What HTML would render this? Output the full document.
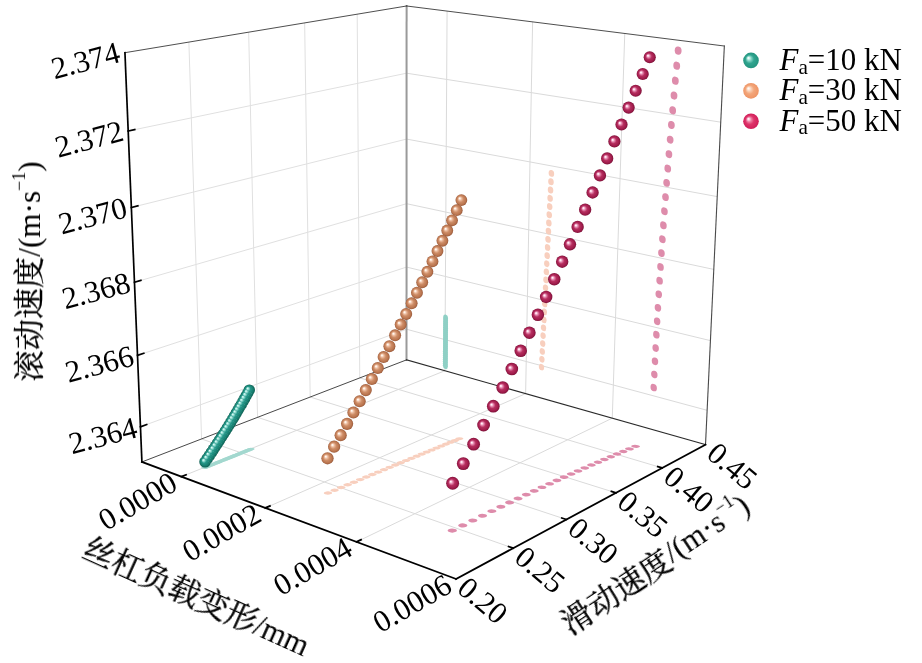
<!DOCTYPE html>
<html lang="zh"><head><meta charset="utf-8"><title>3D scatter</title>
<style>html,body{margin:0;padding:0;background:#fff}svg{display:block}#legendtext,#ticklabels,#titles{filter:grayscale(1)}text{font-family:"Liberation Serif","Noto Serif CJK SC",serif;fill:#000}.cj{font-family:"Noto Serif CJK SC","Liberation Serif",serif;stroke:#000;stroke-width:0.35px}</style></head><body>
<svg width="922" height="663" viewBox="0 0 922 663">
<defs>
<radialGradient id="gp" cx="0.5" cy="0.5" r="0.5" fx="0.34" fy="0.36"><stop offset="0" stop-color="#ffffff"/><stop offset="0.1" stop-color="#ffe3ef"/><stop offset="0.27" stop-color="#e387ad"/><stop offset="0.5" stop-color="#b62f5f"/><stop offset="0.82" stop-color="#9f1b4b"/><stop offset="1" stop-color="#7a1136"/></radialGradient>
<radialGradient id="go" cx="0.5" cy="0.5" r="0.5" fx="0.34" fy="0.34"><stop offset="0" stop-color="#ffffff"/><stop offset="0.1" stop-color="#fff1e6"/><stop offset="0.28" stop-color="#ecbc9f"/><stop offset="0.52" stop-color="#cd8c66"/><stop offset="0.82" stop-color="#ba754f"/><stop offset="1" stop-color="#98593a"/></radialGradient>
<radialGradient id="gt" cx="0.5" cy="0.5" r="0.5" fx="0.33" fy="0.33"><stop offset="0" stop-color="#f2fffd"/><stop offset="0.16" stop-color="#a5e6dc"/><stop offset="0.42" stop-color="#25988a"/><stop offset="0.8" stop-color="#157b6c"/><stop offset="1" stop-color="#0c5b4f"/></radialGradient>
<radialGradient id="lp" cx="0.5" cy="0.5" r="0.5" fx="0.32" fy="0.33"><stop offset="0" stop-color="#ffffff"/><stop offset="0.1" stop-color="#ffe4ee"/><stop offset="0.3" stop-color="#ee7ea2"/><stop offset="0.55" stop-color="#de346a"/><stop offset="1" stop-color="#d01d58"/></radialGradient>
<radialGradient id="lo" cx="0.5" cy="0.5" r="0.5" fx="0.32" fy="0.33"><stop offset="0" stop-color="#ffffff"/><stop offset="0.1" stop-color="#fff3ea"/><stop offset="0.3" stop-color="#f9cdb1"/><stop offset="0.55" stop-color="#f3a67a"/><stop offset="1" stop-color="#ee9465"/></radialGradient>
<radialGradient id="lt" cx="0.5" cy="0.5" r="0.5" fx="0.32" fy="0.33"><stop offset="0" stop-color="#ffffff"/><stop offset="0.1" stop-color="#e2fbf6"/><stop offset="0.3" stop-color="#80d3c3"/><stop offset="0.55" stop-color="#30a48f"/><stop offset="1" stop-color="#22947e"/></radialGradient>
</defs>
<rect width="922" height="663" fill="#fff"/>
<g id="grid">
<line x1="181.42" y1="476.67" x2="444.86" y2="370.75" stroke="#dadada" stroke-width="1"/>
<line x1="444.86" y1="370.75" x2="447.09" y2="11.09" stroke="#dadada" stroke-width="1"/>
<line x1="265.35" y1="507.94" x2="525.61" y2="393.63" stroke="#dadada" stroke-width="1"/>
<line x1="525.61" y1="393.63" x2="532.61" y2="21.87" stroke="#dadada" stroke-width="1"/>
<line x1="356.55" y1="541.91" x2="612.27" y2="418.18" stroke="#dadada" stroke-width="1"/>
<line x1="612.27" y1="418.18" x2="624.76" y2="33.48" stroke="#dadada" stroke-width="1"/>
<line x1="201.57" y1="438.94" x2="513.22" y2="548.14" stroke="#dadada" stroke-width="1"/>
<line x1="201.57" y1="438.94" x2="188.89" y2="42.09" stroke="#e0e0e0" stroke-width="1"/>
<line x1="257.55" y1="417.34" x2="566.4" y2="519.51" stroke="#dadada" stroke-width="1"/>
<line x1="257.55" y1="417.34" x2="248.66" y2="32.18" stroke="#e0e0e0" stroke-width="1"/>
<line x1="310.18" y1="397.04" x2="615.94" y2="492.83" stroke="#dadada" stroke-width="1"/>
<line x1="310.18" y1="397.04" x2="304.65" y2="22.89" stroke="#e0e0e0" stroke-width="1"/>
<line x1="359.75" y1="377.92" x2="662.21" y2="467.92" stroke="#dadada" stroke-width="1"/>
<line x1="359.75" y1="377.92" x2="357.19" y2="14.18" stroke="#e0e0e0" stroke-width="1"/>
<line x1="140.45" y1="426.81" x2="406.52" y2="329.24" stroke="#e0e0e0" stroke-width="1"/>
<line x1="406.52" y1="329.24" x2="707.13" y2="410.32" stroke="#dadada" stroke-width="1"/>
<line x1="137.49" y1="355.34" x2="406.54" y2="267.07" stroke="#e0e0e0" stroke-width="1"/>
<line x1="406.54" y1="267.07" x2="710.43" y2="340.63" stroke="#dadada" stroke-width="1"/>
<line x1="134.46" y1="282.25" x2="406.55" y2="203.7" stroke="#e0e0e0" stroke-width="1"/>
<line x1="406.55" y1="203.7" x2="713.79" y2="269.42" stroke="#dadada" stroke-width="1"/>
<line x1="131.36" y1="207.48" x2="406.57" y2="139.08" stroke="#e0e0e0" stroke-width="1"/>
<line x1="406.57" y1="139.08" x2="717.23" y2="196.61" stroke="#dadada" stroke-width="1"/>
<line x1="128.19" y1="130.99" x2="406.58" y2="73.19" stroke="#e0e0e0" stroke-width="1"/>
<line x1="406.58" y1="73.19" x2="720.75" y2="122.17" stroke="#dadada" stroke-width="1"/>
</g>
<g id="box" stroke-linecap="square">
<line x1="406.52" y1="359.88" x2="406.6" y2="5.99" stroke="#9a9a9a" stroke-width="2"/>
<line x1="141.91" y1="461.95" x2="406.52" y2="359.88" stroke="#333" stroke-width="0.9"/>
<line x1="406.52" y1="359.88" x2="705.51" y2="444.6" stroke="#2a2a2a" stroke-width="1.1"/>
<line x1="124.94" y1="52.69" x2="406.6" y2="5.99" stroke="#3a3a3a" stroke-width="0.9"/>
<line x1="406.6" y1="5.99" x2="724.34" y2="46.03" stroke="#3a3a3a" stroke-width="0.9"/>
<line x1="724.34" y1="46.03" x2="705.51" y2="444.6" stroke="#4a4a4a" stroke-width="1.1"/>
<line x1="141.91" y1="461.95" x2="455.99" y2="578.96" stroke="#000" stroke-width="1.8"/>
<line x1="455.99" y1="578.96" x2="705.51" y2="444.6" stroke="#000" stroke-width="1.8"/>
<line x1="141.91" y1="461.95" x2="124.94" y2="52.69" stroke="#000" stroke-width="1.7"/>
<line x1="181.42" y1="476.67" x2="186.01" y2="474.83" stroke="#000" stroke-width="1.8"/>
<line x1="265.35" y1="507.94" x2="269.91" y2="505.94" stroke="#000" stroke-width="1.8"/>
<line x1="356.55" y1="541.91" x2="361.05" y2="539.73" stroke="#000" stroke-width="1.8"/>
<line x1="513.22" y1="548.14" x2="508.56" y2="546.51" stroke="#000" stroke-width="1.7"/>
<line x1="566.4" y1="519.51" x2="561.8" y2="517.99" stroke="#000" stroke-width="1.7"/>
<line x1="615.94" y1="492.83" x2="611.41" y2="491.41" stroke="#000" stroke-width="1.7"/>
<line x1="662.21" y1="467.92" x2="657.74" y2="466.59" stroke="#000" stroke-width="1.7"/>
<line x1="140.45" y1="426.81" x2="146.68" y2="424.53" stroke="#000" stroke-width="1.7"/>
<line x1="137.49" y1="355.34" x2="143.8" y2="353.27" stroke="#000" stroke-width="1.7"/>
<line x1="134.46" y1="282.25" x2="140.85" y2="280.41" stroke="#000" stroke-width="1.7"/>
<line x1="131.36" y1="207.48" x2="137.83" y2="205.88" stroke="#000" stroke-width="1.7"/>
<line x1="128.19" y1="130.99" x2="134.74" y2="129.62" stroke="#000" stroke-width="1.7"/>
</g>
<g id="proj">
<circle r="1" fill="#a3d8cf" transform="matrix(2.59 0.94 2.76 -1.11 205.27 467.44)"/>
<circle r="1" fill="#a3d8cf" transform="matrix(2.59 0.94 2.75 -1.11 207.49 466.54)"/>
<circle r="1" fill="#a3d8cf" transform="matrix(2.59 0.94 2.74 -1.1 209.68 465.66)"/>
<circle r="1" fill="#a3d8cf" transform="matrix(2.59 0.94 2.74 -1.1 211.84 464.8)"/>
<circle r="1" fill="#a3d8cf" transform="matrix(2.59 0.93 2.73 -1.1 213.97 463.94)"/>
<circle r="1" fill="#a3d8cf" transform="matrix(2.59 0.93 2.73 -1.1 216.07 463.09)"/>
<circle r="1" fill="#a3d8cf" transform="matrix(2.59 0.93 2.72 -1.09 218.14 462.26)"/>
<circle r="1" fill="#a3d8cf" transform="matrix(2.59 0.93 2.71 -1.09 220.19 461.44)"/>
<circle r="1" fill="#a3d8cf" transform="matrix(2.59 0.93 2.71 -1.09 222.2 460.62)"/>
<circle r="1" fill="#a3d8cf" transform="matrix(2.59 0.92 2.7 -1.09 224.19 459.83)"/>
<circle r="1" fill="#a3d8cf" transform="matrix(2.59 0.92 2.7 -1.08 226.15 459.04)"/>
<circle r="1" fill="#a3d8cf" transform="matrix(2.59 0.92 2.69 -1.08 228.08 458.26)"/>
<circle r="1" fill="#a3d8cf" transform="matrix(2.59 0.92 2.68 -1.08 229.98 457.49)"/>
<circle r="1" fill="#a3d8cf" transform="matrix(2.59 0.92 2.68 -1.08 231.86 456.74)"/>
<circle r="1" fill="#a3d8cf" transform="matrix(2.59 0.91 2.67 -1.08 233.71 456)"/>
<circle r="1" fill="#a3d8cf" transform="matrix(2.59 0.91 2.67 -1.07 235.53 455.26)"/>
<circle r="1" fill="#a3d8cf" transform="matrix(2.59 0.91 2.66 -1.07 237.32 454.54)"/>
<circle r="1" fill="#a3d8cf" transform="matrix(2.59 0.91 2.66 -1.07 239.09 453.83)"/>
<circle r="1" fill="#a3d8cf" transform="matrix(2.59 0.91 2.65 -1.07 240.83 453.13)"/>
<circle r="1" fill="#a3d8cf" transform="matrix(2.59 0.9 2.65 -1.06 242.55 452.44)"/>
<circle r="1" fill="#a3d8cf" transform="matrix(2.59 0.9 2.64 -1.06 244.23 451.76)"/>
<circle r="1" fill="#a3d8cf" transform="matrix(2.58 0.9 2.64 -1.06 245.89 451.09)"/>
<circle r="1" fill="#a3d8cf" transform="matrix(2.58 0.9 2.63 -1.06 247.53 450.44)"/>
<circle r="1" fill="#a3d8cf" transform="matrix(2.58 0.9 2.63 -1.06 249.14 449.79)"/>
<circle r="1" fill="#a3d8cf" transform="matrix(2.58 0.9 2.62 -1.05 250.72 449.15)"/>
<circle r="1" fill="#8fd0c5" transform="matrix(2.46 0.69 0.02 -3.07 445.34 365.93)"/>
<circle r="1" fill="#8fd0c5" transform="matrix(2.46 0.69 0.02 -3.07 445.35 363.94)"/>
<circle r="1" fill="#8fd0c5" transform="matrix(2.46 0.69 0.02 -3.07 445.37 361.94)"/>
<circle r="1" fill="#8fd0c5" transform="matrix(2.46 0.69 0.02 -3.08 445.38 359.94)"/>
<circle r="1" fill="#8fd0c5" transform="matrix(2.46 0.68 0.02 -3.08 445.39 357.95)"/>
<circle r="1" fill="#8fd0c5" transform="matrix(2.46 0.68 0.02 -3.08 445.4 355.95)"/>
<circle r="1" fill="#8fd0c5" transform="matrix(2.46 0.68 0.02 -3.08 445.42 353.95)"/>
<circle r="1" fill="#8fd0c5" transform="matrix(2.47 0.68 0.02 -3.08 445.43 351.95)"/>
<circle r="1" fill="#8fd0c5" transform="matrix(2.47 0.68 0.02 -3.09 445.44 349.94)"/>
<circle r="1" fill="#8fd0c5" transform="matrix(2.47 0.67 0.02 -3.09 445.45 347.94)"/>
<circle r="1" fill="#8fd0c5" transform="matrix(2.47 0.67 0.02 -3.09 445.47 345.94)"/>
<circle r="1" fill="#8fd0c5" transform="matrix(2.47 0.67 0.02 -3.09 445.48 343.93)"/>
<circle r="1" fill="#8fd0c5" transform="matrix(2.47 0.67 0.02 -3.09 445.49 341.92)"/>
<circle r="1" fill="#8fd0c5" transform="matrix(2.47 0.67 0.02 -3.1 445.5 339.91)"/>
<circle r="1" fill="#8fd0c5" transform="matrix(2.47 0.66 0.02 -3.1 445.52 337.9)"/>
<circle r="1" fill="#8fd0c5" transform="matrix(2.47 0.66 0.02 -3.1 445.53 335.89)"/>
<circle r="1" fill="#8fd0c5" transform="matrix(2.47 0.66 0.02 -3.1 445.54 333.88)"/>
<circle r="1" fill="#8fd0c5" transform="matrix(2.47 0.66 0.02 -3.1 445.55 331.87)"/>
<circle r="1" fill="#8fd0c5" transform="matrix(2.47 0.66 0.02 -3.11 445.57 329.85)"/>
<circle r="1" fill="#8fd0c5" transform="matrix(2.47 0.65 0.02 -3.11 445.58 327.83)"/>
<circle r="1" fill="#8fd0c5" transform="matrix(2.48 0.65 0.02 -3.11 445.59 325.82)"/>
<circle r="1" fill="#8fd0c5" transform="matrix(2.48 0.65 0.02 -3.11 445.6 323.8)"/>
<circle r="1" fill="#8fd0c5" transform="matrix(2.48 0.65 0.02 -3.11 445.62 321.78)"/>
<circle r="1" fill="#8fd0c5" transform="matrix(2.48 0.65 0.02 -3.12 445.63 319.76)"/>
<circle r="1" fill="#8fd0c5" transform="matrix(2.48 0.64 0.02 -3.12 445.64 317.73)"/>
<circle r="1" fill="#f8cfbe" transform="matrix(3.03 1.07 2.83 -1.27 327.93 493.05)"/>
<circle r="1" fill="#f8cfbe" transform="matrix(3.03 1.07 2.81 -1.26 334.62 490.25)"/>
<circle r="1" fill="#f8cfbe" transform="matrix(3.02 1.06 2.79 -1.25 341.19 487.51)"/>
<circle r="1" fill="#f8cfbe" transform="matrix(3.02 1.05 2.77 -1.24 347.64 484.82)"/>
<circle r="1" fill="#f8cfbe" transform="matrix(3.02 1.04 2.75 -1.23 353.98 482.17)"/>
<circle r="1" fill="#f8cfbe" transform="matrix(3.02 1.04 2.73 -1.22 360.21 479.58)"/>
<circle r="1" fill="#f8cfbe" transform="matrix(3.02 1.03 2.71 -1.21 366.32 477.03)"/>
<circle r="1" fill="#f8cfbe" transform="matrix(3.01 1.02 2.69 -1.2 372.33 474.54)"/>
<circle r="1" fill="#f8cfbe" transform="matrix(3.01 1.02 2.67 -1.2 378.23 472.08)"/>
<circle r="1" fill="#f8cfbe" transform="matrix(3.01 1.01 2.65 -1.19 384.02 469.68)"/>
<circle r="1" fill="#f8cfbe" transform="matrix(3.01 1 2.64 -1.18 389.71 467.32)"/>
<circle r="1" fill="#f8cfbe" transform="matrix(3 1 2.62 -1.17 395.29 465)"/>
<circle r="1" fill="#f8cfbe" transform="matrix(3 0.99 2.6 -1.17 400.78 462.73)"/>
<circle r="1" fill="#f8cfbe" transform="matrix(3 0.98 2.58 -1.16 406.17 460.5)"/>
<circle r="1" fill="#f8cfbe" transform="matrix(3 0.98 2.57 -1.15 411.46 458.32)"/>
<circle r="1" fill="#f8cfbe" transform="matrix(3 0.97 2.55 -1.14 416.65 456.17)"/>
<circle r="1" fill="#f8cfbe" transform="matrix(2.99 0.97 2.54 -1.14 421.75 454.07)"/>
<circle r="1" fill="#f8cfbe" transform="matrix(2.99 0.96 2.52 -1.13 426.76 452)"/>
<circle r="1" fill="#f8cfbe" transform="matrix(2.99 0.96 2.51 -1.12 431.68 449.98)"/>
<circle r="1" fill="#f8cfbe" transform="matrix(2.99 0.95 2.49 -1.12 436.5 448)"/>
<circle r="1" fill="#f8cfbe" transform="matrix(2.99 0.95 2.48 -1.11 441.24 446.05)"/>
<circle r="1" fill="#f8cfbe" transform="matrix(2.98 0.94 2.46 -1.11 445.89 444.15)"/>
<circle r="1" fill="#f8cfbe" transform="matrix(2.98 0.94 2.45 -1.1 450.45 442.28)"/>
<circle r="1" fill="#f8cfbe" transform="matrix(2.98 0.93 2.44 -1.09 454.93 440.45)"/>
<circle r="1" fill="#f8cfbe" transform="matrix(2.98 0.93 2.42 -1.09 459.32 438.65)"/>
<circle r="1" fill="#f8cfbe" transform="matrix(2.68 0.72 0.07 -3.21 541.5 367.12)"/>
<circle r="1" fill="#f8cfbe" transform="matrix(2.68 0.72 0.07 -3.22 541.9 359.29)"/>
<circle r="1" fill="#f8cfbe" transform="matrix(2.69 0.71 0.07 -3.23 542.3 351.44)"/>
<circle r="1" fill="#f8cfbe" transform="matrix(2.69 0.7 0.07 -3.24 542.7 343.57)"/>
<circle r="1" fill="#f8cfbe" transform="matrix(2.7 0.69 0.07 -3.24 543.1 335.68)"/>
<circle r="1" fill="#f8cfbe" transform="matrix(2.7 0.69 0.07 -3.25 543.51 327.77)"/>
<circle r="1" fill="#f8cfbe" transform="matrix(2.71 0.68 0.07 -3.26 543.91 319.84)"/>
<circle r="1" fill="#f8cfbe" transform="matrix(2.71 0.67 0.07 -3.27 544.32 311.89)"/>
<circle r="1" fill="#f8cfbe" transform="matrix(2.71 0.66 0.07 -3.28 544.73 303.91)"/>
<circle r="1" fill="#f8cfbe" transform="matrix(2.72 0.65 0.07 -3.29 545.13 295.92)"/>
<circle r="1" fill="#f8cfbe" transform="matrix(2.72 0.64 0.07 -3.29 545.54 287.9)"/>
<circle r="1" fill="#f8cfbe" transform="matrix(2.73 0.64 0.07 -3.3 545.95 279.86)"/>
<circle r="1" fill="#f8cfbe" transform="matrix(2.73 0.63 0.07 -3.31 546.37 271.8)"/>
<circle r="1" fill="#f8cfbe" transform="matrix(2.73 0.62 0.07 -3.32 546.78 263.72)"/>
<circle r="1" fill="#f8cfbe" transform="matrix(2.74 0.61 0.07 -3.33 547.19 255.62)"/>
<circle r="1" fill="#f8cfbe" transform="matrix(2.74 0.6 0.07 -3.34 547.61 247.49)"/>
<circle r="1" fill="#f8cfbe" transform="matrix(2.75 0.59 0.07 -3.35 548.02 239.35)"/>
<circle r="1" fill="#f8cfbe" transform="matrix(2.75 0.59 0.07 -3.35 548.44 231.18)"/>
<circle r="1" fill="#f8cfbe" transform="matrix(2.75 0.58 0.07 -3.36 548.86 222.98)"/>
<circle r="1" fill="#f8cfbe" transform="matrix(2.76 0.57 0.07 -3.37 549.28 214.77)"/>
<circle r="1" fill="#f8cfbe" transform="matrix(2.76 0.56 0.07 -3.38 549.7 206.54)"/>
<circle r="1" fill="#f8cfbe" transform="matrix(2.77 0.55 0.07 -3.39 550.12 198.28)"/>
<circle r="1" fill="#f8cfbe" transform="matrix(2.77 0.54 0.07 -3.4 550.54 190)"/>
<circle r="1" fill="#f8cfbe" transform="matrix(2.78 0.53 0.08 -3.41 550.97 181.69)"/>
<circle r="1" fill="#f8cfbe" transform="matrix(2.78 0.52 0.08 -3.42 551.39 173.37)"/>
<circle r="1" fill="#de8cab" transform="matrix(3.6 1.27 2.95 -1.49 452.28 530.6)"/>
<circle r="1" fill="#de8cab" transform="matrix(3.59 1.25 2.91 -1.47 462.73 525.41)"/>
<circle r="1" fill="#de8cab" transform="matrix(3.58 1.23 2.87 -1.45 472.79 520.45)"/>
<circle r="1" fill="#de8cab" transform="matrix(3.57 1.22 2.84 -1.44 482.48 515.69)"/>
<circle r="1" fill="#de8cab" transform="matrix(3.57 1.21 2.8 -1.42 491.84 511.12)"/>
<circle r="1" fill="#de8cab" transform="matrix(3.56 1.19 2.77 -1.4 500.88 506.75)"/>
<circle r="1" fill="#de8cab" transform="matrix(3.55 1.18 2.74 -1.39 509.62 502.54)"/>
<circle r="1" fill="#de8cab" transform="matrix(3.55 1.17 2.71 -1.37 518.09 498.5)"/>
<circle r="1" fill="#de8cab" transform="matrix(3.54 1.15 2.68 -1.36 526.3 494.61)"/>
<circle r="1" fill="#de8cab" transform="matrix(3.54 1.14 2.65 -1.35 534.27 490.86)"/>
<circle r="1" fill="#de8cab" transform="matrix(3.53 1.13 2.63 -1.33 542.02 487.25)"/>
<circle r="1" fill="#de8cab" transform="matrix(3.53 1.12 2.6 -1.32 549.57 483.77)"/>
<circle r="1" fill="#de8cab" transform="matrix(3.52 1.11 2.58 -1.31 556.93 480.4)"/>
<circle r="1" fill="#de8cab" transform="matrix(3.52 1.1 2.55 -1.3 564.12 477.13)"/>
<circle r="1" fill="#de8cab" transform="matrix(3.51 1.09 2.53 -1.29 571.14 473.97)"/>
<circle r="1" fill="#de8cab" transform="matrix(3.51 1.08 2.51 -1.28 578.03 470.91)"/>
<circle r="1" fill="#de8cab" transform="matrix(3.5 1.08 2.48 -1.27 584.78 467.92)"/>
<circle r="1" fill="#de8cab" transform="matrix(3.5 1.07 2.46 -1.26 591.42 465.02)"/>
<circle r="1" fill="#de8cab" transform="matrix(3.49 1.06 2.44 -1.25 597.95 462.19)"/>
<circle r="1" fill="#de8cab" transform="matrix(3.49 1.05 2.42 -1.24 604.39 459.42)"/>
<circle r="1" fill="#de8cab" transform="matrix(3.48 1.04 2.4 -1.23 610.75 456.72)"/>
<circle r="1" fill="#de8cab" transform="matrix(3.48 1.04 2.38 -1.22 617.05 454.06)"/>
<circle r="1" fill="#de8cab" transform="matrix(3.48 1.03 2.36 -1.21 623.28 451.46)"/>
<circle r="1" fill="#de8cab" transform="matrix(3.47 1.02 2.34 -1.2 629.47 448.89)"/>
<circle r="1" fill="#de8cab" transform="matrix(3.47 1.01 2.32 -1.19 635.62 446.36)"/>
<circle r="1" fill="#de8cab" transform="matrix(3.2 0.85 0.14 -3.65 653.7 387.56)"/>
<circle r="1" fill="#de8cab" transform="matrix(3.21 0.84 0.14 -3.67 654.32 374.46)"/>
<circle r="1" fill="#de8cab" transform="matrix(3.22 0.82 0.14 -3.69 654.97 361.29)"/>
<circle r="1" fill="#de8cab" transform="matrix(3.23 0.81 0.14 -3.7 655.66 348.05)"/>
<circle r="1" fill="#de8cab" transform="matrix(3.24 0.79 0.14 -3.72 656.38 334.72)"/>
<circle r="1" fill="#de8cab" transform="matrix(3.24 0.78 0.15 -3.73 657.14 321.33)"/>
<circle r="1" fill="#de8cab" transform="matrix(3.25 0.76 0.15 -3.75 657.93 307.85)"/>
<circle r="1" fill="#de8cab" transform="matrix(3.26 0.75 0.15 -3.76 658.75 294.3)"/>
<circle r="1" fill="#de8cab" transform="matrix(3.27 0.73 0.15 -3.78 659.61 280.67)"/>
<circle r="1" fill="#de8cab" transform="matrix(3.28 0.71 0.15 -3.8 660.51 266.95)"/>
<circle r="1" fill="#de8cab" transform="matrix(3.29 0.7 0.15 -3.81 661.44 253.15)"/>
<circle r="1" fill="#de8cab" transform="matrix(3.29 0.68 0.15 -3.83 662.4 239.27)"/>
<circle r="1" fill="#de8cab" transform="matrix(3.3 0.66 0.15 -3.85 663.4 225.31)"/>
<circle r="1" fill="#de8cab" transform="matrix(3.31 0.65 0.15 -3.86 664.44 211.25)"/>
<circle r="1" fill="#de8cab" transform="matrix(3.32 0.63 0.15 -3.88 665.51 197.11)"/>
<circle r="1" fill="#de8cab" transform="matrix(3.33 0.61 0.15 -3.9 666.61 182.89)"/>
<circle r="1" fill="#de8cab" transform="matrix(3.34 0.59 0.16 -3.92 667.75 168.57)"/>
<circle r="1" fill="#de8cab" transform="matrix(3.35 0.58 0.16 -3.94 668.93 154.16)"/>
<circle r="1" fill="#de8cab" transform="matrix(3.36 0.56 0.16 -3.95 670.14 139.65)"/>
<circle r="1" fill="#de8cab" transform="matrix(3.37 0.54 0.16 -3.97 671.39 125.05)"/>
<circle r="1" fill="#de8cab" transform="matrix(3.38 0.52 0.16 -3.99 672.67 110.36)"/>
<circle r="1" fill="#de8cab" transform="matrix(3.39 0.5 0.16 -4.01 673.99 95.57)"/>
<circle r="1" fill="#de8cab" transform="matrix(3.4 0.48 0.16 -4.03 675.34 80.67)"/>
<circle r="1" fill="#de8cab" transform="matrix(3.41 0.46 0.16 -4.05 676.73 65.68)"/>
<circle r="1" fill="#de8cab" transform="matrix(3.42 0.45 0.16 -4.07 678.16 50.59)"/>
</g>
<g id="balls">
<clipPath id="ct24"><polygon points="256.1,396.37 263.32,384.47 248,375.03 240.77,386.92"/></clipPath>
<circle cx="249.29" cy="390.1" r="5.7" fill="url(#gt)" clip-path="url(#ct24)"/>
<clipPath id="ct23"><polygon points="254.54,399.21 256.26,396.11 240.93,386.67 239.22,389.77"/></clipPath>
<circle cx="247.74" cy="392.94" r="5.7" fill="url(#gt)" clip-path="url(#ct23)"/>
<clipPath id="ct22"><polygon points="252.96,402.07 254.7,398.96 239.38,389.51 237.64,392.63"/></clipPath>
<circle cx="246.17" cy="395.79" r="5.7" fill="url(#gt)" clip-path="url(#ct22)"/>
<clipPath id="ct21"><polygon points="251.36,404.94 253.12,401.82 237.79,392.37 236.03,395.5"/></clipPath>
<circle cx="244.58" cy="398.65" r="5.71" fill="url(#gt)" clip-path="url(#ct21)"/>
<clipPath id="ct20"><polygon points="249.72,407.82 251.51,404.69 236.19,395.24 234.4,398.38"/></clipPath>
<circle cx="242.96" cy="401.53" r="5.71" fill="url(#gt)" clip-path="url(#ct20)"/>
<clipPath id="ct19"><polygon points="248.07,410.72 249.88,407.57 234.56,398.13 232.74,401.28"/></clipPath>
<circle cx="241.32" cy="404.42" r="5.71" fill="url(#gt)" clip-path="url(#ct19)"/>
<clipPath id="ct18"><polygon points="246.38,413.63 248.22,410.46 232.9,401.02 231.06,404.18"/></clipPath>
<circle cx="239.65" cy="407.32" r="5.72" fill="url(#gt)" clip-path="url(#ct18)"/>
<clipPath id="ct17"><polygon points="244.68,416.55 246.54,413.37 231.22,403.93 229.35,407.1"/></clipPath>
<circle cx="237.95" cy="410.23" r="5.72" fill="url(#gt)" clip-path="url(#ct17)"/>
<clipPath id="ct16"><polygon points="242.94,419.48 244.83,416.29 229.51,406.85 227.62,410.04"/></clipPath>
<circle cx="236.23" cy="413.16" r="5.72" fill="url(#gt)" clip-path="url(#ct16)"/>
<clipPath id="ct15"><polygon points="241.18,422.43 243.1,419.22 227.78,409.78 225.86,412.98"/></clipPath>
<circle cx="234.49" cy="416.1" r="5.73" fill="url(#gt)" clip-path="url(#ct15)"/>
<clipPath id="ct14"><polygon points="239.4,425.38 241.34,422.17 226.02,412.73 224.07,415.94"/></clipPath>
<circle cx="232.71" cy="419.05" r="5.73" fill="url(#gt)" clip-path="url(#ct14)"/>
<clipPath id="ct13"><polygon points="237.58,428.36 239.55,425.13 224.23,415.69 222.26,418.91"/></clipPath>
<circle cx="230.91" cy="422.02" r="5.74" fill="url(#gt)" clip-path="url(#ct13)"/>
<clipPath id="ct12"><polygon points="235.75,431.34 237.74,428.1 222.42,418.66 220.42,421.9"/></clipPath>
<circle cx="229.09" cy="425" r="5.74" fill="url(#gt)" clip-path="url(#ct12)"/>
<clipPath id="ct11"><polygon points="233.88,434.34 235.9,431.09 220.58,421.64 218.56,424.9"/></clipPath>
<circle cx="227.24" cy="427.99" r="5.74" fill="url(#gt)" clip-path="url(#ct11)"/>
<clipPath id="ct10"><polygon points="231.99,437.35 234.04,434.08 218.71,424.64 216.67,427.91"/></clipPath>
<circle cx="225.36" cy="430.99" r="5.75" fill="url(#gt)" clip-path="url(#ct10)"/>
<clipPath id="ct9"><polygon points="230.07,440.38 232.15,437.1 216.82,427.65 214.75,430.94"/></clipPath>
<circle cx="223.45" cy="434.01" r="5.75" fill="url(#gt)" clip-path="url(#ct9)"/>
<clipPath id="ct8"><polygon points="228.13,443.42 230.23,440.12 214.91,430.68 212.8,433.97"/></clipPath>
<circle cx="221.52" cy="437.04" r="5.76" fill="url(#gt)" clip-path="url(#ct8)"/>
<clipPath id="ct7"><polygon points="226.16,446.47 228.28,443.16 212.96,433.72 210.83,437.03"/></clipPath>
<circle cx="219.56" cy="440.09" r="5.76" fill="url(#gt)" clip-path="url(#ct7)"/>
<clipPath id="ct6"><polygon points="224.16,449.54 226.31,446.22 210.99,436.77 208.83,440.1"/></clipPath>
<circle cx="217.58" cy="443.15" r="5.77" fill="url(#gt)" clip-path="url(#ct6)"/>
<clipPath id="ct5"><polygon points="222.13,452.62 224.31,449.28 208.99,439.84 206.81,443.18"/></clipPath>
<circle cx="215.57" cy="446.23" r="5.77" fill="url(#gt)" clip-path="url(#ct5)"/>
<clipPath id="ct4"><polygon points="220.08,455.72 222.29,452.37 206.96,442.92 204.75,446.28"/></clipPath>
<circle cx="213.53" cy="449.32" r="5.78" fill="url(#gt)" clip-path="url(#ct4)"/>
<clipPath id="ct3"><polygon points="217.99,458.83 220.23,455.46 204.91,446.02 202.67,449.39"/></clipPath>
<circle cx="211.46" cy="452.42" r="5.78" fill="url(#gt)" clip-path="url(#ct3)"/>
<clipPath id="ct2"><polygon points="215.89,461.96 218.15,458.57 202.83,449.13 200.56,452.51"/></clipPath>
<circle cx="209.36" cy="455.54" r="5.79" fill="url(#gt)" clip-path="url(#ct2)"/>
<clipPath id="ct1"><polygon points="213.75,465.1 216.04,461.7 200.72,452.26 198.42,455.66"/></clipPath>
<circle cx="207.24" cy="458.67" r="5.79" fill="url(#gt)" clip-path="url(#ct1)"/>
<clipPath id="ct0"><polygon points="206.38,476.89 213.91,464.84 198.58,455.4 191.05,467.45"/></clipPath>
<circle cx="205.09" cy="461.82" r="5.8" fill="url(#gt)" clip-path="url(#ct0)"/>
<circle cx="461.36" cy="200.06" r="5.88" fill="url(#go)"/>
<circle cx="456.74" cy="210.16" r="5.89" fill="url(#go)"/>
<circle cx="452.04" cy="220.31" r="5.9" fill="url(#go)"/>
<circle cx="447.26" cy="230.5" r="5.91" fill="url(#go)"/>
<circle cx="442.41" cy="240.74" r="5.91" fill="url(#go)"/>
<circle cx="437.48" cy="251.03" r="5.92" fill="url(#go)"/>
<circle cx="432.47" cy="261.38" r="5.93" fill="url(#go)"/>
<circle cx="427.38" cy="271.77" r="5.94" fill="url(#go)"/>
<circle cx="422.21" cy="282.23" r="5.95" fill="url(#go)"/>
<circle cx="416.95" cy="292.73" r="5.96" fill="url(#go)"/>
<circle cx="411.62" cy="303.3" r="5.97" fill="url(#go)"/>
<circle cx="406.19" cy="313.93" r="5.98" fill="url(#go)"/>
<circle cx="400.69" cy="324.61" r="5.99" fill="url(#go)"/>
<circle cx="395.1" cy="335.36" r="6" fill="url(#go)"/>
<circle cx="389.41" cy="346.18" r="6.01" fill="url(#go)"/>
<circle cx="383.65" cy="357.06" r="6.03" fill="url(#go)"/>
<circle cx="377.79" cy="368.01" r="6.04" fill="url(#go)"/>
<circle cx="371.83" cy="379.03" r="6.05" fill="url(#go)"/>
<circle cx="365.79" cy="390.12" r="6.06" fill="url(#go)"/>
<circle cx="359.65" cy="401.29" r="6.07" fill="url(#go)"/>
<circle cx="353.42" cy="412.52" r="6.09" fill="url(#go)"/>
<circle cx="347.09" cy="423.84" r="6.1" fill="url(#go)"/>
<circle cx="340.66" cy="435.24" r="6.12" fill="url(#go)"/>
<circle cx="334.13" cy="446.72" r="6.13" fill="url(#go)"/>
<circle cx="327.51" cy="458.28" r="6.14" fill="url(#go)"/>
<circle cx="649.73" cy="57.21" r="6.07" fill="url(#gp)"/>
<circle cx="642.71" cy="73.98" r="6.08" fill="url(#gp)"/>
<circle cx="635.67" cy="90.78" r="6.09" fill="url(#gp)"/>
<circle cx="628.61" cy="107.62" r="6.1" fill="url(#gp)"/>
<circle cx="621.52" cy="124.49" r="6.11" fill="url(#gp)"/>
<circle cx="614.39" cy="141.41" r="6.12" fill="url(#gp)"/>
<circle cx="607.19" cy="158.39" r="6.13" fill="url(#gp)"/>
<circle cx="599.94" cy="175.42" r="6.14" fill="url(#gp)"/>
<circle cx="592.6" cy="192.51" r="6.16" fill="url(#gp)"/>
<circle cx="585.16" cy="209.67" r="6.17" fill="url(#gp)"/>
<circle cx="577.63" cy="226.92" r="6.18" fill="url(#gp)"/>
<circle cx="569.97" cy="244.26" r="6.19" fill="url(#gp)"/>
<circle cx="562.18" cy="261.7" r="6.21" fill="url(#gp)"/>
<circle cx="554.25" cy="279.24" r="6.22" fill="url(#gp)"/>
<circle cx="546.15" cy="296.91" r="6.24" fill="url(#gp)"/>
<circle cx="537.88" cy="314.71" r="6.26" fill="url(#gp)"/>
<circle cx="529.41" cy="332.66" r="6.27" fill="url(#gp)"/>
<circle cx="520.74" cy="350.77" r="6.29" fill="url(#gp)"/>
<circle cx="511.84" cy="369.04" r="6.31" fill="url(#gp)"/>
<circle cx="502.69" cy="387.51" r="6.33" fill="url(#gp)"/>
<circle cx="493.28" cy="406.19" r="6.35" fill="url(#gp)"/>
<circle cx="483.6" cy="425.08" r="6.38" fill="url(#gp)"/>
<circle cx="473.61" cy="444.22" r="6.4" fill="url(#gp)"/>
<circle cx="463.3" cy="463.61" r="6.43" fill="url(#gp)"/>
<circle cx="452.64" cy="483.29" r="6.46" fill="url(#gp)"/>
</g>
<g id="legend">
<circle cx="751" cy="60.4" r="7.8" fill="url(#lt)"/>
<circle cx="751" cy="90.85" r="7.8" fill="url(#lo)"/>
<circle cx="751" cy="121.3" r="7.8" fill="url(#lp)"/>
</g>
<g id="legendtext">
<text transform="translate(779.5 70.1) scale(1.014 1)" font-size="30.5"><tspan font-style="italic">F</tspan><tspan font-size="21" dy="3.6">a</tspan><tspan dy="-3.6">=10 kN</tspan></text>
<text transform="translate(779.5 100.4) scale(1.014 1)" font-size="30.5"><tspan font-style="italic">F</tspan><tspan font-size="21" dy="3.6">a</tspan><tspan dy="-3.6">=30 kN</tspan></text>
<text transform="translate(779.5 130.7) scale(1.014 1)" font-size="30.5"><tspan font-style="italic">F</tspan><tspan font-size="21" dy="3.6">a</tspan><tspan dy="-3.6">=50 kN</tspan></text>
</g>
<g id="ticklabels">
<text font-size="30.8" text-anchor="end" transform="translate(138.97 436.72) rotate(-14.7)">2.364</text>
<text font-size="30.8" text-anchor="end" transform="translate(135.64 365.07) rotate(-14.7)">2.366</text>
<text font-size="30.8" text-anchor="end" transform="translate(132.25 291.79) rotate(-14.7)">2.368</text>
<text font-size="30.8" text-anchor="end" transform="translate(128.79 216.85) rotate(-14.7)">2.370</text>
<text font-size="30.8" text-anchor="end" transform="translate(125.25 140.17) rotate(-14.7)">2.372</text>
<text font-size="30.8" text-anchor="end" transform="translate(121.64 61.69) rotate(-14.7)">2.374</text>
<text font-size="30.8" text-anchor="end" transform="translate(179.32 488.87) rotate(-30)">0.0000</text>
<text font-size="30.8" text-anchor="end" transform="translate(263.25 520.14) rotate(-30)">0.0002</text>
<text font-size="30.8" text-anchor="end" transform="translate(354.45 554.11) rotate(-30)">0.0004</text>
<text font-size="30.8" text-anchor="end" transform="translate(453.89 591.16) rotate(-30)">0.0006</text>
<text font-size="30.8" transform="translate(455.59 590.96) rotate(40)">0.20</text>
<text font-size="30.8" transform="translate(512.82 560.14) rotate(40)">0.25</text>
<text font-size="30.8" transform="translate(566 531.51) rotate(40)">0.30</text>
<text font-size="30.8" transform="translate(615.54 504.83) rotate(40)">0.35</text>
<text font-size="30.8" transform="translate(661.81 479.92) rotate(40)">0.40</text>
<text font-size="30.8" transform="translate(705.11 456.6) rotate(40)">0.45</text>
</g>
<g id="titles">
<text font-size="31.2" transform="translate(40 381.5) rotate(-90)"><tspan class="cj">滚动速度</tspan><tspan dy="0">/(m·s</tspan><tspan font-size="18" dy="-15.5">−1</tspan><tspan dy="15.5">)</tspan></text>
<text font-size="31.2" transform="translate(80.8 556.1) rotate(24.3)"><tspan class="cj">丝杠负载变形</tspan>/mm</text>
<text font-size="31.2" transform="translate(570.3 635.2) rotate(-33.6)"><tspan class="cj">滑动速度</tspan><tspan dy="-2.8">/(m·s</tspan><tspan font-size="18" dy="-15.5">−1</tspan><tspan dy="15.5">)</tspan></text>
</g>
</svg></body></html>
